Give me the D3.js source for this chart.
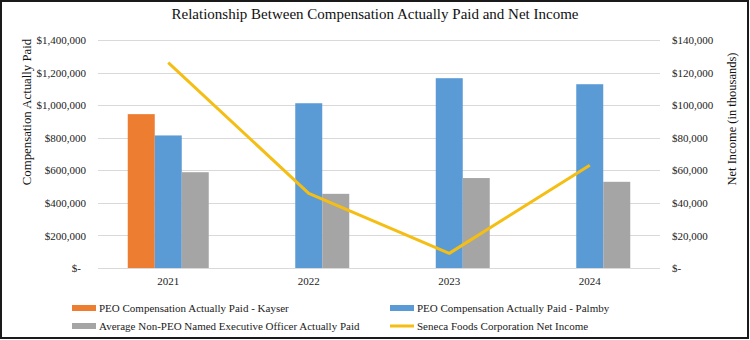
<!DOCTYPE html>
<html>
<head>
<meta charset="utf-8">
<script src="https://cdn.jsdelivr.net/npm/d3@7"></script>
<style>
  html, body { margin: 0; padding: 0; background: #fff; }
  svg { display: block; font-family: "Liberation Serif", "Times New Roman", serif; }
</style>
</head>
<body>
<svg id="chart" width="750" height="340"></svg>
<script>
// ---- data ----
const years = ["2021", "2022", "2023", "2024"];
const kayserCAP = [946000, null, null, null];
const palmbyCAP = [815000, 1013000, 1167000, 1130000];
const neoAvgCAP = [589000, 456000, 553000, 530000];
const netIncome = [126300, 45900, 9000, 63200];
const leftTicks = [0, 200000, 400000, 600000, 800000, 1000000, 1200000, 1400000];
const rightTicks = [0, 20000, 40000, 60000, 80000, 100000, 120000, 140000];
const seriesNames = [
  "PEO Compensation Actually Paid - Kayser",
  "PEO Compensation Actually Paid - Palmby",
  "Average Non-PEO Named Executive Officer Actually Paid",
  "Seneca Foods Corporation Net Income"
];
const chartTitle = "Relationship Between Compensation Actually Paid and Net Income";
const leftTitle = "Compensation Actually Paid";
const rightTitle = "Net Income (in thousands)";

// ---- styles ----
const colors = ["#ED7D31", "#5B9BD5", "#A5A5A5", "#F5BE14"];
const barSeries = [kayserCAP, palmbyCAP, neoAvgCAP];

const svg = d3.select("#chart");
const plot = { left: 98, right: 660, top: 40.3, bottom: 268 };

// frame
svg.append("rect").attr("x", 1).attr("y", 1).attr("width", 747).attr("height", 337)
  .attr("fill", "#fff").attr("stroke", "#1a1a1a").attr("stroke-width", 2);

const x = d3.scaleBand().domain(years).range([plot.left, plot.right]).padding(0);
const xs = d3.scaleBand().domain(d3.range(barSeries.length)).range([-40.5, 40.5]).padding(0);
const yL = d3.scaleLinear().domain([0, 1400000]).range([plot.bottom, plot.top]);
const yR = d3.scaleLinear().domain([0, 140000]).range([plot.bottom, plot.top]);

const fmt = d3.format(",");
const money = d => d === 0 ? "$-" : "$" + fmt(d);

// gridlines
svg.append("g").selectAll("line").data(leftTicks).join("line")
  .attr("x1", plot.left).attr("x2", plot.right)
  .attr("y1", d => Math.round(yL(d)) + 0.5).attr("y2", d => Math.round(yL(d)) + 0.5)
  .attr("stroke", "#D9D9D9").attr("stroke-width", 1);

// left axis
const gL = svg.append("g").attr("transform", `translate(${plot.left},0)`)
  .call(d3.axisLeft(yL).tickValues(leftTicks).tickFormat(money).tickSize(0).tickPadding(12));
gL.select(".domain").remove();
gL.attr("font-family", null);
gL.selectAll("text").attr("font-size", 11).attr("fill", "#222")
  .attr("dx", d => d === 0 ? -5 : 0);

// right axis
const gR = svg.append("g").attr("transform", `translate(${plot.right},0)`)
  .call(d3.axisRight(yR).tickValues(rightTicks).tickFormat(money).tickSize(0).tickPadding(12));
gR.select(".domain").remove();
gR.attr("font-family", null);
gR.selectAll("text").attr("font-size", 11).attr("fill", "#222");

// bottom axis
const gB = svg.append("g").attr("transform", `translate(0,${plot.bottom})`)
  .call(d3.axisBottom(x).tickSize(0).tickPadding(9));
gB.select(".domain").remove();
gB.attr("font-family", null);
gB.selectAll("text").attr("font-size", 11).attr("fill", "#222");

// bars
barSeries.forEach((vals, si) => {
  svg.append("g").selectAll("rect")
    .data(years.map((yr, i) => ({ yr, v: vals[i] })).filter(d => d.v != null))
    .join("rect")
    .attr("x", d => x(d.yr) + x.bandwidth() / 2 + xs(si))
    .attr("width", xs.bandwidth())
    .attr("y", d => yL(d.v))
    .attr("height", d => yL(0) - yL(d.v))
    .attr("fill", colors[si]);
});

// line
const line = d3.line()
  .x((d, i) => x(years[i]) + x.bandwidth() / 2)
  .y(d => yR(d));
svg.append("path").datum(netIncome).attr("d", line)
  .attr("fill", "none").attr("stroke", colors[3]).attr("stroke-width", 3)
  .attr("stroke-linejoin", "round");

// title
svg.append("text").attr("x", 375).attr("y", 19).attr("text-anchor", "middle")
  .attr("font-size", 15).attr("fill", "#111").text(chartTitle);

// axis titles
svg.append("text").attr("transform", "translate(31,112) rotate(-90)")
  .attr("text-anchor", "middle").attr("font-size", 12.8).attr("fill", "#111").text(leftTitle);
svg.append("text").attr("transform", "translate(736,119) rotate(-90)")
  .attr("text-anchor", "middle").attr("font-size", 12.5).attr("fill", "#111").text(rightTitle);

// legend
const legendPos = [
  { x: 72, y: 308 }, { x: 390, y: 308 }, { x: 72, y: 326 }, { x: 390, y: 326 }
];
const lg = svg.append("g");
seriesNames.forEach((name, i) => {
  const p = legendPos[i];
  if (i < 3) {
    lg.append("rect").attr("x", p.x).attr("y", p.y - 3).attr("width", 24).attr("height", 6)
      .attr("fill", colors[i]);
  } else {
    lg.append("line").attr("x1", p.x).attr("x2", p.x + 24).attr("y1", p.y).attr("y2", p.y)
      .attr("stroke", colors[i]).attr("stroke-width", 3);
  }
  lg.append("text").attr("x", p.x + 27).attr("y", p.y).attr("dy", "0.35em")
    .attr("font-size", 11).attr("fill", "#222").text(name);
});
</script>
</body>
</html>
